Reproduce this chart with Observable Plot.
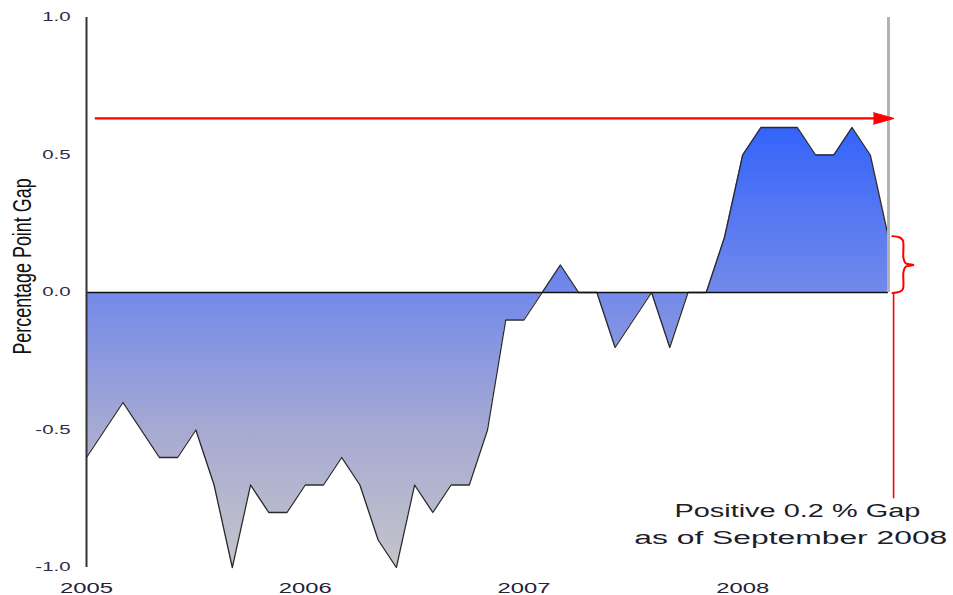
<!DOCTYPE html>
<html>
<head>
<meta charset="utf-8">
<script src="https://cdn.jsdelivr.net/npm/d3@7"></script>
<script src="https://cdn.jsdelivr.net/npm/@observablehq/plot@0.6"></script>
<style>
  html, body { margin: 0; padding: 0; background: #ffffff; }
  #chart svg { display: block; }
</style>
</head>
<body>
<div id="chart"></div>
<script>
// ---- Data (monthly percentage point gap) ----
const months = [
  "2005-01","2005-02","2005-03","2005-04","2005-05","2005-06","2005-07","2005-08","2005-09","2005-10","2005-11","2005-12",
  "2006-01","2006-02","2006-03","2006-04","2006-05","2006-06","2006-07","2006-08","2006-09","2006-10","2006-11","2006-12",
  "2007-01","2007-02","2007-03","2007-04","2007-05","2007-06","2007-07","2007-08","2007-09","2007-10","2007-11","2007-12",
  "2008-01","2008-02","2008-03","2008-04","2008-05","2008-06","2008-07","2008-08","2008-09"
];
const gap = [
  -0.6, -0.5, -0.4, -0.5, -0.6, -0.6, -0.5, -0.7, -1.0, -0.7, -0.8, -0.8,
  -0.7, -0.7, -0.6, -0.7, -0.9, -1.0, -0.7, -0.8, -0.7, -0.7, -0.5, -0.1,
  -0.1,  0.0,  0.1,  0.0,  0.0, -0.2, -0.1,  0.0, -0.2,  0.0,  0.0,  0.2,
   0.5,  0.6,  0.6,  0.6,  0.5,  0.5,  0.6,  0.5,  0.2
];
const xTicks = [2005, 2006, 2007, 2008];
const yTicks = [-1.0, -0.5, 0.0, 0.5, 1.0];
const yLabel = "Percentage Point Gap";

// gradient stops (data value -> colour)
const stopValues = [0.6, 0.0, -0.5, -1.0];
const stopColors = ["#3464fb", "#7389ea", "#a6aad2", "#c4c4ca"];

// ---- Annotations ----
const arrowShaft = [{x1: 2005.04, x2: 2008.62, y: 0.633}];
const arrowHead = [
  {x: 2008.598, y: 0.654},
  {x: 2008.692, y: 0.633},
  {x: 2008.598, y: 0.612}
];
const noteRule = [{x: 2008.69, y1: 0, y2: -0.75}];
const brace = [
  {x: 2008.685, y: 0.205}, {x: 2008.716, y: 0.201}, {x: 2008.732, y: 0.19}, {x: 2008.735, y: 0.17},
  {x: 2008.735, y: 0.125}, {x: 2008.745, y: 0.106}, {x: 2008.781, y: 0.1},
  {x: 2008.745, y: 0.094}, {x: 2008.735, y: 0.075}, {x: 2008.735, y: 0.03},
  {x: 2008.732, y: 0.012}, {x: 2008.716, y: 0.002}, {x: 2008.685, y: -0.002}
];
const noteLines = [
  {x: 2008.25, y: -0.797, text: "Positive 0.2 % Gap"},
  {x: 2008.22, y: -0.893, text: "as of September 2008"}
];
const noteWidths = {"Positive 0.2 % Gap": 246, "as of September 2008": 313};

// ---- Build ----
const toYear = m => { const [y, mo] = m.split("-").map(Number); return y + (mo - 1) / 12; };
const data = months.map((m, i) => ({t: toYear(m), v: gap[i]}));
const xStart = data[0].t, xEnd = data[data.length - 1].t;

const chart = Plot.plot({
  width: 953,
  height: 595,
  marginLeft: 86,
  marginRight: 65,
  marginTop: 17,
  marginBottom: 28,
  style: {fontFamily: "'Liberation Sans', Arial, sans-serif", background: "#ffffff", color: "#222"},
  x: {type: "linear", domain: [xStart, xEnd]},
  y: {domain: [-1, 1]},
  marks: [
    Plot.areaY(data, {x: "t", y: "v", fill: "url(#gapGradient)"}),
    Plot.lineY(data, {x: "t", y: "v", stroke: "#2a2a2a", strokeWidth: 1.3}),
    Plot.ruleY([0], {stroke: "#111", strokeWidth: 1.6}),
    Plot.ruleX([xStart], {y1: -1, y2: 1, stroke: "#333", strokeWidth: 2}),
    Plot.ruleX([xEnd], {y1: 0, y2: 1, stroke: "#b3b3b3", strokeWidth: 3}),
    Plot.ruleY(arrowShaft, {x1: "x1", x2: "x2", y: "y", stroke: "#ff0000", strokeWidth: 2.2}),
    Plot.line(arrowHead, {x: "x", y: "y", fill: "#ff0000", stroke: "#ff0000", strokeWidth: 1}),
    Plot.ruleX(noteRule, {x: "x", y1: "y1", y2: "y2", stroke: "#ff0000", strokeWidth: 1.6}),
    Plot.line(brace, {x: "x", y: "y", stroke: "#ff0000", strokeWidth: 2, curve: "catmull-rom"}),
    Plot.text(noteLines, {x: "x", y: "y", text: "text", fontSize: 18, fill: "#1d1d2a"}),
    Plot.text([yLabel], {frameAnchor: "left", textAnchor: "middle", dx: -64, dy: -26, rotate: -90, fontSize: 16, fill: "#111"}),
    Plot.axisX({ticks: xTicks, tickSize: 0, tickPadding: 16, fontSize: 14, fill: "#22223a", tickFormat: d => String(d), label: null}),
    Plot.axisY({ticks: yTicks, tickSize: 0, tickPadding: 16, fontSize: 12, fill: "#2c2c48", tickFormat: d => d.toFixed(1), label: null})
  ]
});

document.getElementById("chart").appendChild(chart);

// gradient definition in the y-scale's pixel space
const yScale = chart.scale("y");
const ns = "http://www.w3.org/2000/svg";
const defs = document.createElementNS(ns, "defs");
const grad = document.createElementNS(ns, "linearGradient");
grad.setAttribute("id", "gapGradient");
grad.setAttribute("gradientUnits", "userSpaceOnUse");
const gy1 = yScale.apply(stopValues[0]), gy2 = yScale.apply(stopValues[stopValues.length - 1]);
grad.setAttribute("x1", 0); grad.setAttribute("x2", 0);
grad.setAttribute("y1", gy1); grad.setAttribute("y2", gy2);
stopValues.forEach((v, i) => {
  const s = document.createElementNS(ns, "stop");
  s.setAttribute("offset", (yScale.apply(v) - gy1) / (gy2 - gy1));
  s.setAttribute("stop-color", stopColors[i]);
  grad.appendChild(s);
});
defs.appendChild(grad);
chart.insertBefore(defs, chart.firstChild);

// wide lettering as in the reference
chart.querySelectorAll("text").forEach(t => {
  const label = t.textContent;
  const w = t.getComputedTextLength();
  let target = null;
  if (noteWidths[label]) target = noteWidths[label];
  else if (label === yLabel) {
    t.setAttribute("transform", (t.getAttribute("transform") || "") + " scale(1.12,1.6)");
    return;
  } else if (/^-?\d/.test(label)) target = w * 1.7;
  if (target) {
    t.setAttribute("textLength", target);
    t.setAttribute("lengthAdjust", "spacingAndGlyphs");
  }
});
</script>
</body>
</html>
